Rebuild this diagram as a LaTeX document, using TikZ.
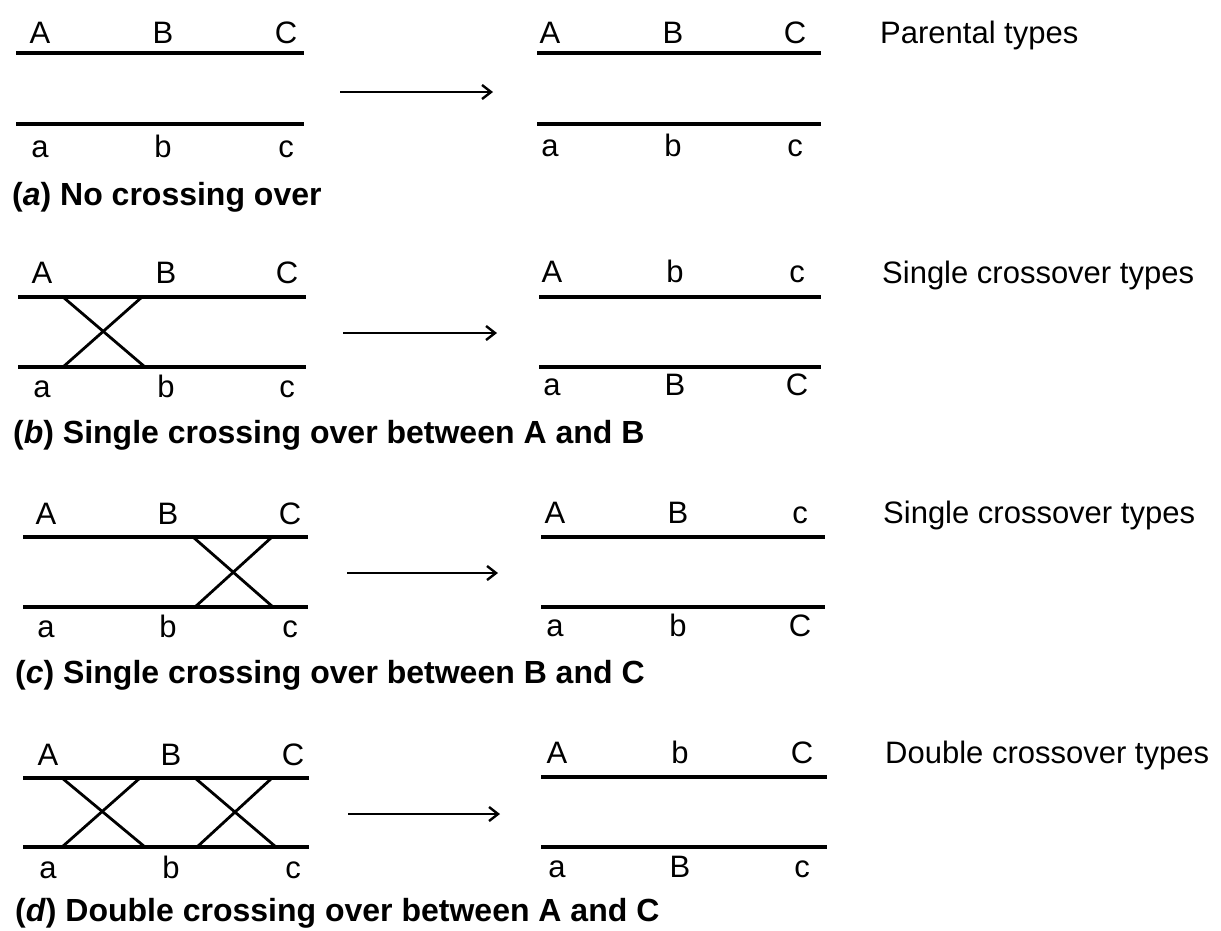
\documentclass[tikz,border=0pt]{standalone}
\usepackage{fontspec}
\setmainfont{Liberation Sans}
\usetikzlibrary{arrows.meta}
\begin{document}
\begin{tikzpicture}[x=1pt,y=-1pt,
  chrom/.style={line width=3.4pt},
  xover/.style={line width=2.8pt},
  flow/.style={line width=2.2pt,-{Straight Barb[length=9pt,width=14pt,line width=2.4pt]}},
  gene/.style={anchor=base,inner sep=0pt,font=\fontsize{31}{36}\selectfont},
  kind/.style={anchor=base west,inner sep=0pt,font=\fontsize{31}{36}\selectfont},
  captext/.style={anchor=base west,inner sep=0pt,font=\fontsize{32}{38}\selectfont\bfseries}]
\useasboundingbox (0,0) rectangle (1221,930);

% ---------- panel (a) ----------
\coordinate (aL1s) at (16,53);  \coordinate (aL1e) at (304,53);
\coordinate (aL2s) at (16,124); \coordinate (aL2e) at (304,124);
\draw[chrom] (aL1s) -- (aL1e);
\draw[chrom] (aL2s) -- (aL2e);
\node[gene] (aLA) at (40,43) {A};
\node[gene] (aLB) at (163,43) {B};
\node[gene] (aLC) at (286,43) {C};
\node[gene] (aLa) at (40,157) {a};
\node[gene] (aLb) at (163,157) {b};
\node[gene] (aLc) at (286,157) {c};
\coordinate (aT1) at (340,92); \coordinate (aT2) at (493,92);
\draw[flow] (aT1) -- (aT2);
\coordinate (aR1s) at (537,53);  \coordinate (aR1e) at (821,53);
\coordinate (aR2s) at (537,124); \coordinate (aR2e) at (821,124);
\draw[chrom] (aR1s) -- (aR1e);
\draw[chrom] (aR2s) -- (aR2e);
\node[gene] (aRA) at (550,43) {A};
\node[gene] (aRB) at (673,43) {B};
\node[gene] (aRC) at (795,43) {C};
\node[gene] (aRa) at (550,156) {a};
\node[gene] (aRb) at (673,156) {b};
\node[gene] (aRc) at (795,156) {c};
\node[kind] (aK) at (880,43) {Parental types};
\node[captext] (aCap) at (12,205) {(\textit{a}) No crossing over};

% ---------- panel (b) ----------
\coordinate (bL1s) at (18,297);  \coordinate (bL1e) at (306,297);
\coordinate (bL2s) at (18,367);  \coordinate (bL2e) at (306,367);
\draw[chrom] (bL1s) -- (bL1e);
\draw[chrom] (bL2s) -- (bL2e);
\coordinate (bX1) at (63,297);  \coordinate (bX2) at (145,367);
\coordinate (bX3) at (142,297); \coordinate (bX4) at (63,367);
\draw[xover] (bX1) -- (bX2);
\draw[xover] (bX3) -- (bX4);
\node[gene] (bLA) at (42,283) {A};
\node[gene] (bLB) at (166,283) {B};
\node[gene] (bLC) at (287,283) {C};
\node[gene] (bLa) at (42,397) {a};
\node[gene] (bLb) at (166,397) {b};
\node[gene] (bLc) at (287,397) {c};
\coordinate (bT1) at (343,333); \coordinate (bT2) at (497,333);
\draw[flow] (bT1) -- (bT2);
\coordinate (bR1s) at (539,297);  \coordinate (bR1e) at (821,297);
\coordinate (bR2s) at (539,367);  \coordinate (bR2e) at (821,367);
\draw[chrom] (bR1s) -- (bR1e);
\draw[chrom] (bR2s) -- (bR2e);
\node[gene] (bRA) at (552,282) {A};
\node[gene] (bRb) at (675,282) {b};
\node[gene] (bRc) at (797,282) {c};
\node[gene] (bRa) at (552,395) {a};
\node[gene] (bRB) at (675,395) {B};
\node[gene] (bRC) at (797,395) {C};
\node[kind] (bK) at (882,283) {Single crossover types};
\node[captext] (bCap) at (13,443) {(\textit{b}) Single crossing over between A and B};

% ---------- panel (c) ----------
\coordinate (cL1s) at (23,537);  \coordinate (cL1e) at (308,537);
\coordinate (cL2s) at (23,607);  \coordinate (cL2e) at (308,607);
\draw[chrom] (cL1s) -- (cL1e);
\draw[chrom] (cL2s) -- (cL2e);
\coordinate (cX1) at (193,537); \coordinate (cX2) at (273,607);
\coordinate (cX3) at (272,537); \coordinate (cX4) at (195,607);
\draw[xover] (cX1) -- (cX2);
\draw[xover] (cX3) -- (cX4);
\node[gene] (cLA) at (46,524) {A};
\node[gene] (cLB) at (168,524) {B};
\node[gene] (cLC) at (290,524) {C};
\node[gene] (cLa) at (46,637) {a};
\node[gene] (cLb) at (168,637) {b};
\node[gene] (cLc) at (290,637) {c};
\coordinate (cT1) at (347,573); \coordinate (cT2) at (498,573);
\draw[flow] (cT1) -- (cT2);
\coordinate (cR1s) at (541,537);  \coordinate (cR1e) at (825,537);
\coordinate (cR2s) at (541,607);  \coordinate (cR2e) at (825,607);
\draw[chrom] (cR1s) -- (cR1e);
\draw[chrom] (cR2s) -- (cR2e);
\node[gene] (cRA) at (555,523) {A};
\node[gene] (cRB) at (678,523) {B};
\node[gene] (cRc) at (800,523) {c};
\node[gene] (cRa) at (555,636) {a};
\node[gene] (cRb) at (678,636) {b};
\node[gene] (cRC) at (800,636) {C};
\node[kind] (cK) at (883,523) {Single crossover types};
\node[captext] (cCap) at (15,683) {(\textit{c}) Single crossing over between B and C};

% ---------- panel (d) ----------
\coordinate (dL1s) at (23,778);  \coordinate (dL1e) at (309,778);
\coordinate (dL2s) at (23,847);  \coordinate (dL2e) at (309,847);
\draw[chrom] (dL1s) -- (dL1e);
\draw[chrom] (dL2s) -- (dL2e);
\coordinate (dX1) at (62,778);  \coordinate (dX2) at (145,847);
\coordinate (dX3) at (140,778); \coordinate (dX4) at (62,847);
\coordinate (dX5) at (195,778); \coordinate (dX6) at (276,847);
\coordinate (dX7) at (272,778); \coordinate (dX8) at (197,847);
\draw[xover] (dX1) -- (dX2);
\draw[xover] (dX3) -- (dX4);
\draw[xover] (dX5) -- (dX6);
\draw[xover] (dX7) -- (dX8);
\node[gene] (dLA) at (48,765) {A};
\node[gene] (dLB) at (171,765) {B};
\node[gene] (dLC) at (293,765) {C};
\node[gene] (dLa) at (48,878) {a};
\node[gene] (dLb) at (171,878) {b};
\node[gene] (dLc) at (293,878) {c};
\coordinate (dT1) at (348,814); \coordinate (dT2) at (500,814);
\draw[flow] (dT1) -- (dT2);
\coordinate (dR1s) at (541,777);  \coordinate (dR1e) at (827,777);
\coordinate (dR2s) at (541,847);  \coordinate (dR2e) at (827,847);
\draw[chrom] (dR1s) -- (dR1e);
\draw[chrom] (dR2s) -- (dR2e);
\node[gene] (dRA) at (557,763) {A};
\node[gene] (dRb) at (680,763) {b};
\node[gene] (dRC) at (802,763) {C};
\node[gene] (dRa) at (557,877) {a};
\node[gene] (dRB) at (680,877) {B};
\node[gene] (dRc) at (802,877) {c};
\node[kind] (dK) at (885,763) {Double crossover types};
\node[captext] (dCap) at (15,921) {(\textit{d}) Double crossing over between A and C};
\end{tikzpicture}
\end{document}
